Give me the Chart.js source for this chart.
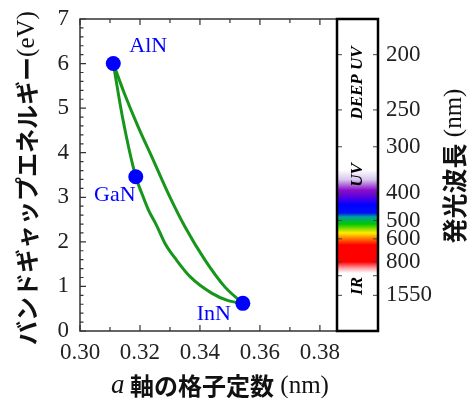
<!DOCTYPE html>
<html>
<head>
<meta charset="utf-8">
<script src="https://cdn.jsdelivr.net/npm/chart.js@4.4.1/dist/chart.umd.min.js"></script>
<style>
  html, body { margin: 0; padding: 0; background: #fff; }
  #wrap { width: 470px; height: 398px; }
</style>
</head>
<body>
<div id="wrap"><canvas id="gapChart"></canvas></div>
<script>
// Compounds (binary end points)
const compounds = ['AlN', 'GaN', 'InN'];
const latticeA = [0.3111, 0.3186, 0.3543];
const bandGap = [6.00, 3.46, 0.62];

// AlN -> GaN -> InN branch
const lowerA = [0.3111, 0.3143, 0.3186, 0.3206, 0.3228, 0.3256, 0.3283, 0.3322, 0.3367, 0.3439, 0.3494, 0.3543];
const lowerE = [6.00, 4.75, 3.46, 3.09, 2.72, 2.36, 1.97, 1.59, 1.22, 0.85, 0.68, 0.62];

// AlN -> InN branch
const upperA = [0.3111, 0.3148, 0.3194, 0.3244, 0.3294, 0.3350, 0.3417, 0.3483, 0.3543];
const upperE = [6.00, 5.33, 4.58, 3.84, 3.09, 2.34, 1.59, 0.99, 0.62];

// Axis ticks
const xTicks = [0.30, 0.32, 0.34, 0.36, 0.38];
const yTicks = [0, 1, 2, 3, 4, 5, 6, 7];
const wavelengthTicks = [200, 250, 300, 400, 500, 600, 800, 1550];
const colorbarMarks = [200, 250, 300, 400, 500, 600, 800, 1000, 1550];

// Spectrum colours along the colour bar (nm)
const spectrumNm = [343, 365, 392, 412, 438, 468, 484, 517, 546, 564, 593, 642, 800, 880, 954];
const spectrumColors = ['#ffffff', '#d8c8ee', '#8a10c8', '#5a00e0', '#0000ff', '#0010f8', '#00a0a0',
  '#00c800', '#a8e000', '#ffee00', '#ff8800', '#ff0000', '#ff0000', '#ffa0a8', '#ffffff'];

const HC = 1240; // eV*nm
const SERIF = '"Liberation Serif", "Times New Roman", serif';
const JP = '"Noto Sans CJK JP", "Noto Sans", sans-serif';
const NONE = 'rgba(0,0,0,0)';

function toPoints(xs, ys) {
    return xs.map((x, i) => ({ x: x, y: ys[i] }));
}

// draws text pieces one after another (mixed fonts), centred on 0,0
function drawPieces(ctx, pieces) {
    let total = 0;
    pieces.forEach(p => { ctx.font = p.font; p.w = ctx.measureText(p.text).width; total += p.w; });
    let x = -total / 2;
    pieces.forEach(p => {
        ctx.font = p.font;
        ctx.fillText(p.text, x, 0);
        x += p.w;
    });
}

const framePlugin = {
    id: 'frame',
    beforeDatasetsDraw(chart) {
        const { ctx, chartArea: a, scales } = chart;
        const xs = scales.x, ys = scales.y;
        ctx.save();
        ctx.strokeStyle = '#333';
        ctx.lineWidth = 1.5;
        ctx.beginPath();
        ctx.moveTo(a.right, a.top); ctx.lineTo(a.left, a.top);
        ctx.lineTo(a.left, a.bottom); ctx.lineTo(a.right, a.bottom);
        ctx.stroke();

        ctx.lineWidth = 1.2;
        ctx.beginPath();
        for (let k = 0; k <= 35; k++) {
            const py = ys.getPixelForValue(k * 0.2);
            const len = (k % 5 === 0) ? 6 : 3.5;
            ctx.moveTo(a.left, py); ctx.lineTo(a.left + len, py);
        }
        for (let k = 0; k <= 8; k++) {
            const px = xs.getPixelForValue(0.30 + k * 0.01);
            const len = (k % 2 === 0) ? 6 : 4;
            ctx.moveTo(px, a.bottom); ctx.lineTo(px, a.bottom - len);
            ctx.moveTo(px, a.top); ctx.lineTo(px, a.top + len);
        }
        ctx.stroke();
        ctx.restore();
    },
    afterDraw(chart) {
        const { ctx, chartArea: a, scales } = chart;
        const ys = scales.y;
        const left = a.right, width = 41;
        ctx.save();

        // colour bar
        const grad = ctx.createLinearGradient(0, a.top, 0, a.bottom);
        spectrumNm.forEach((nm, i) => {
            const t = (ys.getPixelForValue(HC / nm) - a.top) / (a.bottom - a.top);
            grad.addColorStop(Math.min(1, Math.max(0, t)), spectrumColors[i]);
        });
        ctx.fillStyle = grad;
        ctx.fillRect(left, a.top, width, a.bottom - a.top);

        ctx.strokeStyle = '#444';
        ctx.lineWidth = 1;
        ctx.beginPath();
        colorbarMarks.forEach(nm => {
            const py = ys.getPixelForValue(HC / nm);
            ctx.moveTo(left, py); ctx.lineTo(left + 5, py);
            ctx.moveTo(left + width - 5, py); ctx.lineTo(left + width, py);
        });
        ctx.stroke();

        ctx.strokeStyle = '#000';
        ctx.lineWidth = 2.5;
        ctx.strokeRect(left, a.top, width, a.bottom - a.top);

        // region names inside the bar
        ctx.fillStyle = '#000';
        ctx.textAlign = 'center';
        ctx.textBaseline = 'middle';
        ctx.font = 'italic bold 17px ' + SERIF;
        [['DEEP UV', 83], ['UV', 175], ['IR', 286]].forEach(([txt, py]) => {
            ctx.save();
            ctx.translate(left + width / 2, py);
            ctx.rotate(-Math.PI / 2);
            ctx.fillText(txt, 0, 0);
            ctx.restore();
        });

        // compound labels
        const meta = chart.getDatasetMeta(0);
        const offsets = [[35, -17], [-21, 18], [-29, 11]];
        ctx.fillStyle = '#0000ff';
        ctx.font = '22px ' + SERIF;
        meta.data.forEach((pt, i) => {
            ctx.fillText(compounds[i], pt.x + offsets[i][0], pt.y + offsets[i][1]);
        });

        // axis titles
        ctx.fillStyle = '#111';
        ctx.textAlign = 'left';
        ctx.save();
        ctx.translate(27, 178);
        ctx.rotate(-Math.PI / 2);
        drawPieces(ctx, [
            { text: 'バンドギャップエネルギー', font: 'bold 24px ' + JP },
            { text: '(eV)', font: '25px ' + SERIF }
        ]);
        ctx.restore();

        ctx.save();
        ctx.translate(220, 386);
        drawPieces(ctx, [
            { text: 'a', font: 'italic 27px ' + SERIF },
            { text: ' 軸の格子定数', font: 'bold 24px ' + JP },
            { text: ' (nm)', font: '25px ' + SERIF }
        ]);
        ctx.restore();

        ctx.save();
        ctx.translate(454, 166);
        ctx.rotate(-Math.PI / 2);
        drawPieces(ctx, [
            { text: '発光波長', font: 'bold 25px ' + JP },
            { text: ' (nm)', font: '25px ' + SERIF }
        ]);
        ctx.restore();

        ctx.restore();
    }
};

const ctx = document.getElementById('gapChart').getContext('2d');
const gapChart = new Chart(ctx, {
    type: 'scatter',
    data: {
        datasets: [
            {
                label: 'compounds',
                data: toPoints(latticeA, bandGap),
                pointRadius: 7.5,
                pointBackgroundColor: '#0000ff',
                pointBorderWidth: 0,
                showLine: false
            },
            {
                label: 'AlGaN / InGaN',
                data: toPoints(lowerA, lowerE),
                showLine: true,
                borderColor: '#16961a',
                borderWidth: 3,
                pointRadius: 0,
                cubicInterpolationMode: 'monotone'
            },
            {
                label: 'AlInN',
                data: toPoints(upperA, upperE),
                showLine: true,
                borderColor: '#16961a',
                borderWidth: 3,
                pointRadius: 0,
                cubicInterpolationMode: 'monotone'
            }
        ]
    },
    options: {
        responsive: true,
        maintainAspectRatio: false,
        animation: false,
        devicePixelRatio: 1,
        layout: { padding: { top: 19, left: 0, right: 0, bottom: 0 } },
        plugins: { legend: { display: false }, tooltip: { enabled: false } },
        scales: {
            x: {
                type: 'linear',
                min: 0.30,
                max: 0.3857,
                afterBuildTicks: s => { s.ticks = xTicks.map(v => ({ value: v })); },
                afterFit: s => { s.height = 67; },
                grid: { display: true, drawOnChartArea: false, drawTicks: true, tickLength: 6, color: NONE },
                border: { display: false },
                ticks: {
                    padding: 2,
                    color: '#222',
                    font: { family: SERIF, size: 23 },
                    callback: v => v.toFixed(2),
                    autoSkip: false,
                    maxRotation: 0
                }
            },
            y: {
                type: 'linear',
                min: 0,
                max: 7,
                afterBuildTicks: s => { s.ticks = yTicks.map(v => ({ value: v })); },
                afterFit: s => { s.width = 80; },
                grid: { display: true, drawOnChartArea: false, drawTicks: true, tickLength: 9, color: NONE },
                border: { display: false },
                ticks: {
                    padding: 2,
                    color: '#222',
                    font: { family: SERIF, size: 23 }
                }
            },
            y2: {
                type: 'linear',
                position: 'right',
                min: 0,
                max: 7,
                afterBuildTicks: s => { s.ticks = wavelengthTicks.map(nm => ({ value: HC / nm })); },
                afterFit: s => { s.width = 133; },
                grid: { display: true, drawOnChartArea: false, drawTicks: true, tickLength: 47, color: NONE },
                border: { display: false },
                ticks: {
                    padding: 2,
                    color: '#222',
                    autoSkip: false,
                    font: { family: SERIF, size: 23 },
                    callback: v => String(Math.round(HC / v))
                }
            }
        }
    },
    plugins: [framePlugin]
});
</script>
</body>
</html>
